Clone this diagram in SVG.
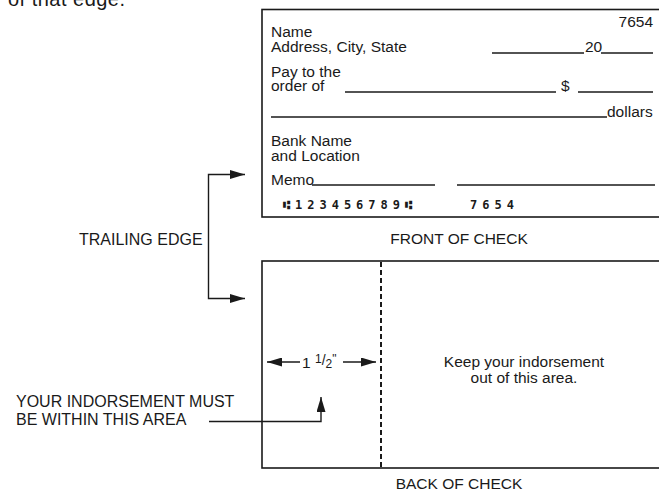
<svg xmlns="http://www.w3.org/2000/svg" width="659" height="494" viewBox="0 0 659 494">
<style>
text{font-family:"Liberation Sans",Arial,sans-serif;font-size:15.5px;fill:#1a1a1a}
.lbl{font-size:16px}
.box{fill:none;stroke:#1a1a1a;stroke-width:1.6}
.ln{fill:none;stroke:#1a1a1a;stroke-width:1.4}
.micr{font-family:"DejaVu Sans Mono","DejaVu Sans",monospace;font-size:12px;font-weight:bold;letter-spacing:5px}
.fr{font-size:12px}
</style>
<defs>
<marker id="ah" viewBox="0 0 15 9" refX="15" refY="4.5" markerWidth="15" markerHeight="9" markerUnits="userSpaceOnUse" orient="auto-start-reverse">
<path d="M0,0 L15,4.5 L0,9 Z" fill="#1a1a1a"/>
</marker>
</defs>
<rect width="659" height="494" fill="#fff"/>
<text x="8" y="6" style="font-size:20px" textLength="117" lengthAdjust="spacing">of that  edge.</text>

<g id="front-check">
<rect class="box" x="262" y="9.5" width="420" height="207.5"/>
<text x="653" y="27" text-anchor="end">7654</text>
<text x="271" y="37">Name</text>
<text x="271" y="52">Address, City, State</text>
<line class="ln" x1="492" y1="53" x2="584" y2="53"/>
<text x="585" y="52">20</text>
<line class="ln" x1="601" y1="53" x2="653" y2="53"/>
<text x="271" y="77">Pay to the</text>
<text x="271" y="91">order of</text>
<line class="ln" x1="345" y1="92" x2="556" y2="92"/>
<text x="561" y="91">$</text>
<line class="ln" x1="578" y1="92" x2="653" y2="92"/>
<line class="ln" x1="271" y1="117" x2="607" y2="117"/>
<text x="607" y="117">dollars</text>
<text x="271" y="146">Bank Name</text>
<text x="271" y="161">and Location</text>
<text x="271" y="185">Memo</text>
<line class="ln" x1="312" y1="185" x2="435" y2="185"/>
<line class="ln" x1="457" y1="185" x2="655" y2="185"/>
<text class="micr" x="283" y="209">⑆123456789⑆</text>
<text class="micr" x="470" y="209">7654</text>
</g>
<text x="459" y="244" text-anchor="middle">FRONT OF CHECK</text>

<g id="back-check">
<rect class="box" x="262" y="261" width="420" height="207"/>
<line x1="381" y1="262" x2="381" y2="468" stroke="#1a1a1a" stroke-width="2" stroke-dasharray="5,3"/>
<text x="524" y="367" text-anchor="middle">Keep your indorsement</text>
<text x="524" y="383" text-anchor="middle">out of this area.</text>
<text x="302" y="368">1 <tspan class="fr" dy="-5">1</tspan><tspan style="font-size:14px" dy="2">/</tspan><tspan class="fr" dy="3">2</tspan><tspan class="fr" dy="-5">"</tspan></text>
</g>
<text x="459" y="489" text-anchor="middle">BACK OF CHECK</text>

<g id="trailing-edge">
<text class="lbl" x="79" y="245">TRAILING EDGE</text>
</g>
<g id="indorsement-label">
<text class="lbl" x="16" y="407">YOUR INDORSEMENT MUST</text>
<text class="lbl" x="16" y="425">BE WITHIN THIS AREA</text>
</g>

<g id="connectors">
<path class="ln" d="M245,174.5 H208.5 V298.5 H245" marker-start="url(#ah)" marker-end="url(#ah)"/>
<line class="ln" x1="300" y1="362" x2="267" y2="362" marker-end="url(#ah)"/>
<line class="ln" x1="343" y1="362" x2="376" y2="362" marker-end="url(#ah)"/>
<path class="ln" d="M209,421.5 H321 V397" marker-end="url(#ah)"/>
</g>
</svg>
